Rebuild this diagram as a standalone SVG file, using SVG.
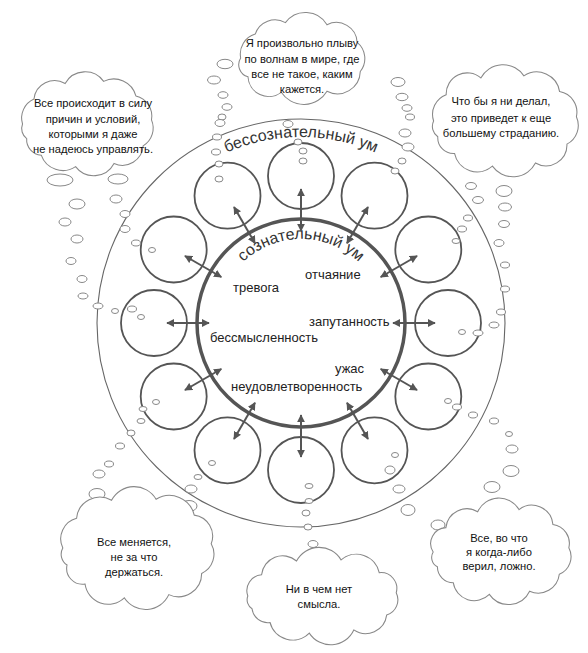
<svg xmlns="http://www.w3.org/2000/svg" width="588" height="653" viewBox="0 0 588 653">
<style>
.bg{fill:#fff}
.outer{fill:none;stroke:#666;stroke-width:1.1}
.inner{fill:none;stroke:#555;stroke-width:3.5}
.sc{fill:none;stroke:#555;stroke-width:1.8}
.arr{stroke:#555;stroke-width:2;marker-start:url(#ah);marker-end:url(#ah)}
.bub{fill:#fff;stroke:#888;stroke-width:1}
.cloud{fill:#fff;stroke:#888;stroke-width:1}
.ct{font-family:"Liberation Sans",Arial,sans-serif;font-size:11.2px;fill:#111;text-anchor:middle}
.lab{font-family:"Liberation Sans",Arial,sans-serif;font-size:13px;fill:#222}
.arc{font-family:"Liberation Sans",Arial,sans-serif;font-size:16px;fill:#333}
</style>
<defs>
<marker id="ah" viewBox="0 0 10 10" refX="9" refY="5" markerWidth="4" markerHeight="4" orient="auto-start-reverse" markerUnits="strokeWidth"><path d="M0,0 L10,5 L0,10 z" fill="#555"/></marker>
<path id="arcOuter" d="M115,323 A186,186 0 0 1 487,323"/>
<path id="arcInner" d="M217,323 A84,84 0 0 1 385,323"/>
</defs>
<rect class="bg" width="588" height="653"/>

<g id="unconscious">
<circle class="outer" cx="301" cy="323" r="204"/>
<text class="arc"><textPath href="#arcOuter" startOffset="50%" text-anchor="middle">бессознательный ум</textPath></text>
</g>

<g id="small-circles">
<circle class="sc" cx="448" cy="323" r="33"/>
<circle class="sc" cx="428.3" cy="249.5" r="33"/>
<circle class="sc" cx="374.5" cy="195.7" r="33"/>
<circle class="sc" cx="301" cy="176" r="33"/>
<circle class="sc" cx="227.5" cy="195.7" r="33"/>
<circle class="sc" cx="173.7" cy="249.5" r="33"/>
<circle class="sc" cx="154" cy="323" r="33"/>
<circle class="sc" cx="173.7" cy="396.5" r="33"/>
<circle class="sc" cx="227.5" cy="450.3" r="33"/>
<circle class="sc" cx="301" cy="470" r="33"/>
<circle class="sc" cx="374.5" cy="450.3" r="33"/>
<circle class="sc" cx="428.3" cy="396.5" r="33"/>
</g>

<g id="conscious">
<circle class="inner" cx="301" cy="323" r="104"/>
<text class="arc"><textPath href="#arcInner" startOffset="50%" text-anchor="middle">сознательный ум</textPath></text>
<text class="lab" x="305" y="279">отчаяние</text>
<text class="lab" x="233" y="292">тревога</text>
<text class="lab" x="309" y="326">запутанность</text>
<text class="lab" x="210" y="342">бессмысленность</text>
<text class="lab" x="335" y="373">ужас</text>
<text class="lab" x="231" y="391">неудовлетворенность</text>
</g>

<g id="connectors">
<line class="arr" x1="393" y1="323" x2="435" y2="323"/>
<line class="arr" x1="393" y1="323" x2="435" y2="323" transform="rotate(-30 301 323)"/>
<line class="arr" x1="393" y1="323" x2="435" y2="323" transform="rotate(-60 301 323)"/>
<line class="arr" x1="393" y1="323" x2="435" y2="323" transform="rotate(-90 301 323)"/>
<line class="arr" x1="393" y1="323" x2="435" y2="323" transform="rotate(-120 301 323)"/>
<line class="arr" x1="393" y1="323" x2="435" y2="323" transform="rotate(-150 301 323)"/>
<line class="arr" x1="393" y1="323" x2="435" y2="323" transform="rotate(180 301 323)"/>
<line class="arr" x1="393" y1="323" x2="435" y2="323" transform="rotate(150 301 323)"/>
<line class="arr" x1="393" y1="323" x2="435" y2="323" transform="rotate(120 301 323)"/>
<line class="arr" x1="393" y1="323" x2="435" y2="323" transform="rotate(90 301 323)"/>
<line class="arr" x1="393" y1="323" x2="435" y2="323" transform="rotate(60 301 323)"/>
<line class="arr" x1="393" y1="323" x2="435" y2="323" transform="rotate(30 301 323)"/>
</g>

<g id="bubbles">
<ellipse class="bub" cx="225" cy="64" rx="8" ry="4.7"/>
<ellipse class="bub" cx="214" cy="80" rx="6.5" ry="4"/>
<ellipse class="bub" cx="223" cy="95" rx="5" ry="3.3"/>
<ellipse class="bub" cx="227" cy="107" rx="5" ry="3.3"/>
<ellipse class="bub" cx="222" cy="117" rx="4" ry="3"/>
<ellipse class="bub" cx="220" cy="123" rx="5" ry="3.5"/>
<ellipse class="bub" cx="217" cy="137" rx="4.5" ry="3"/>
<ellipse class="bub" cx="216" cy="152" rx="4.5" ry="3"/>
<ellipse class="bub" cx="219" cy="164" rx="4" ry="3"/>
<ellipse class="bub" cx="219" cy="179" rx="4" ry="3"/>
<ellipse class="bub" cx="288" cy="124" rx="5" ry="3.5"/>
<ellipse class="bub" cx="298" cy="142" rx="4" ry="3"/>
<ellipse class="bub" cx="303" cy="151" rx="4" ry="3"/>
<ellipse class="bub" cx="303" cy="161" rx="4" ry="3"/>
<ellipse class="bub" cx="398" cy="82" rx="7" ry="4.5"/>
<ellipse class="bub" cx="402" cy="97" rx="6" ry="3.7"/>
<ellipse class="bub" cx="407" cy="108" rx="5" ry="3.3"/>
<ellipse class="bub" cx="410" cy="117" rx="4.5" ry="3"/>
<ellipse class="bub" cx="405" cy="133" rx="6" ry="4"/>
<ellipse class="bub" cx="408" cy="147" rx="6" ry="4"/>
<ellipse class="bub" cx="402" cy="161" rx="4" ry="3"/>
<ellipse class="bub" cx="395" cy="171" rx="4" ry="3"/>
<ellipse class="bub" cx="471" cy="186" rx="5.5" ry="3.5"/>
<ellipse class="bub" cx="478" cy="200" rx="5.5" ry="3.5"/>
<ellipse class="bub" cx="468" cy="218" rx="4.5" ry="3"/>
<ellipse class="bub" cx="462" cy="229" rx="4.5" ry="3"/>
<ellipse class="bub" cx="456" cy="241" rx="4" ry="2.5"/>
<ellipse class="bub" cx="504" cy="191" rx="8" ry="5.5"/>
<ellipse class="bub" cx="505" cy="207" rx="6.5" ry="4"/>
<ellipse class="bub" cx="504" cy="224" rx="5.5" ry="3.5"/>
<ellipse class="bub" cx="499" cy="243" rx="5" ry="3.5"/>
<ellipse class="bub" cx="505" cy="265" rx="4.5" ry="3"/>
<ellipse class="bub" cx="505" cy="289" rx="4.5" ry="3"/>
<ellipse class="bub" cx="501" cy="312" rx="4.5" ry="3"/>
<ellipse class="bub" cx="494" cy="325" rx="5" ry="3"/>
<ellipse class="bub" cx="478" cy="333" rx="5" ry="3"/>
<ellipse class="bub" cx="462" cy="332" rx="3.5" ry="2.5"/>
<ellipse class="bub" cx="448" cy="401" rx="3.5" ry="2.5"/>
<ellipse class="bub" cx="457" cy="407" rx="4.5" ry="3"/>
<ellipse class="bub" cx="473" cy="415" rx="4.5" ry="3"/>
<ellipse class="bub" cx="494" cy="421" rx="4.5" ry="3"/>
<ellipse class="bub" cx="509" cy="434" rx="3.5" ry="2.5"/>
<ellipse class="bub" cx="512" cy="449" rx="6" ry="4"/>
<ellipse class="bub" cx="511" cy="471" rx="8" ry="5.5"/>
<ellipse class="bub" cx="492" cy="487" rx="8" ry="5.5"/>
<ellipse class="bub" cx="395" cy="455" rx="3.5" ry="2.5"/>
<ellipse class="bub" cx="390" cy="470" rx="5" ry="4"/>
<ellipse class="bub" cx="399" cy="489" rx="6" ry="4"/>
<ellipse class="bub" cx="408" cy="510" rx="7" ry="5.5"/>
<ellipse class="bub" cx="438" cy="525" rx="7" ry="5"/>
<ellipse class="bub" cx="309" cy="486" rx="4" ry="2.5"/>
<ellipse class="bub" cx="309" cy="501" rx="4" ry="2.5"/>
<ellipse class="bub" cx="306" cy="513" rx="4" ry="3"/>
<ellipse class="bub" cx="308" cy="527" rx="4" ry="3"/>
<ellipse class="bub" cx="313" cy="544" rx="5" ry="3.5"/>
<ellipse class="bub" cx="212" cy="463" rx="3.5" ry="2.5"/>
<ellipse class="bub" cx="198" cy="477" rx="4" ry="2.5"/>
<ellipse class="bub" cx="191" cy="489" rx="6" ry="4"/>
<ellipse class="bub" cx="189" cy="506" rx="8" ry="5.5"/>
<ellipse class="bub" cx="156" cy="402" rx="3.5" ry="2.5"/>
<ellipse class="bub" cx="143" cy="409" rx="4" ry="2.5"/>
<ellipse class="bub" cx="141" cy="421" rx="4" ry="2.5"/>
<ellipse class="bub" cx="131" cy="433" rx="4" ry="3"/>
<ellipse class="bub" cx="120" cy="446" rx="4.5" ry="3"/>
<ellipse class="bub" cx="109" cy="464" rx="4.5" ry="3"/>
<ellipse class="bub" cx="99" cy="474" rx="6" ry="4"/>
<ellipse class="bub" cx="97" cy="494" rx="8" ry="5.5"/>
<ellipse class="bub" cx="98" cy="306" rx="5" ry="3"/>
<ellipse class="bub" cx="115" cy="311" rx="3.5" ry="2.5"/>
<ellipse class="bub" cx="132" cy="309" rx="4.5" ry="3"/>
<ellipse class="bub" cx="141" cy="317" rx="3.5" ry="2.5"/>
<ellipse class="bub" cx="77" cy="204" rx="8" ry="5"/>
<ellipse class="bub" cx="65" cy="222" rx="6" ry="4"/>
<ellipse class="bub" cx="77" cy="239" rx="6" ry="4"/>
<ellipse class="bub" cx="71" cy="261" rx="5" ry="3.5"/>
<ellipse class="bub" cx="82" cy="279" rx="5" ry="3.5"/>
<ellipse class="bub" cx="83" cy="296" rx="5" ry="3"/>
<ellipse class="bub" cx="116" cy="199" rx="6" ry="4"/>
<ellipse class="bub" cx="125" cy="214" rx="5" ry="3.5"/>
<ellipse class="bub" cx="125" cy="229" rx="5" ry="3.5"/>
<ellipse class="bub" cx="136" cy="243" rx="4.5" ry="3"/>
<ellipse class="bub" cx="152" cy="250" rx="3.5" ry="2.5"/>
<ellipse class="bub" cx="60" cy="180" rx="13" ry="6"/>
<ellipse class="bub" cx="118" cy="179" rx="10" ry="5"/>
</g>

<g id="cloud-top">
<path class="cloud" transform="translate(301 58) scale(1.04) translate(-301 -58)" d="M243,58 A20,20 0 0 1 257,35 A20,20 0 0 1 286,24 A24,24 0 0 1 326,26 A20,20 0 0 1 355,43 A20,20 0 0 1 358,71 A22,22 0 0 1 326,90 A26,26 0 0 1 282,91 A20,20 0 0 1 250,76 A12,12 0 0 1 243,58 Z"/>
<text class="ct" x="302" y="47">Я произвольно плыву</text>
<text class="ct" x="302" y="63">по волнам в мире, где</text>
<text class="ct" x="302" y="78">все не такое, каким</text>
<text class="ct" x="302" y="93">кажется.</text>
</g>

<g id="cloud-left">
<path class="cloud" transform="translate(87 124) scale(1.04) translate(-87 -124)" d="M25,124 A20,20 0 0 1 36,100 A20,20 0 0 1 66,85 A22,22 0 0 1 103,83 A22,22 0 0 1 134,97 A20,20 0 0 1 149,120 A20,20 0 0 1 141,145 A20,20 0 0 1 113,162 A22,22 0 0 1 76,165 A22,22 0 0 1 43,154 A15,15 0 0 1 29,138 A12,12 0 0 1 25,124 Z"/>
<text class="ct" x="93" y="107">Все происходит в силу</text>
<text class="ct" x="93" y="123">причин и условий,</text>
<text class="ct" x="93" y="138">которыми я даже</text>
<text class="ct" x="93" y="153">не надеюсь управлять.</text>
</g>

<g id="cloud-right">
<path class="cloud" transform="translate(505 121) scale(1.05) translate(-505 -121)" d="M437,121 A20,20 0 0 1 449,96 A20,20 0 0 1 482,80 A24,24 0 0 1 523,78 A22,22 0 0 1 557,93 A20,20 0 0 1 573,117 A20,20 0 0 1 564,143 A20,20 0 0 1 534,161 A24,24 0 0 1 493,164 A22,22 0 0 1 457,152 A15,15 0 0 1 441,136 A12,12 0 0 1 437,121 Z"/>
<text class="ct" x="501" y="105">Что бы я ни делал,</text>
<text class="ct" x="501" y="122">это приведет к еще</text>
<text class="ct" x="501" y="137">большему страданию.</text>
</g>

<g id="cloud-bottom-left">
<path class="cloud" transform="translate(137 548) scale(1.06) translate(-137 -548)" d="M67,548 A20,20 0 0 1 80,520 A22,22 0 0 1 113,503 A24,24 0 0 1 155,502 A24,24 0 0 1 191,517 A20,20 0 0 1 207,544 A20,20 0 0 1 198,572 A22,22 0 0 1 167,592 A24,24 0 0 1 125,595 A22,22 0 0 1 88,582 A15,15 0 0 1 71,564 A12,12 0 0 1 67,548 Z"/>
<text class="ct" x="134" y="546">Все меняется,</text>
<text class="ct" x="134" y="561">не за что</text>
<text class="ct" x="134" y="576">держаться.</text>
</g>

<g id="cloud-bottom">
<path class="cloud" transform="translate(322 596) scale(1.06) translate(-322 -596)" d="M252,596 A15,15 0 0 1 265,576 A20,20 0 0 1 298,563 A24,24 0 0 1 340,562 A22,22 0 0 1 376,574 A15,15 0 0 1 392,593 A15,15 0 0 1 383,614 A20,20 0 0 1 352,628 A24,24 0 0 1 310,631 A22,22 0 0 1 273,621 A15,15 0 0 1 256,608 A10,10 0 0 1 252,596 Z"/>
<text class="ct" x="319" y="593">Ни в чем нет</text>
<text class="ct" x="319" y="608">смысла.</text>
</g>

<g id="cloud-bottom-right">
<path class="cloud" transform="translate(501 552) scale(1.06) translate(-501 -552)" d="M437,552 A15,15 0 0 1 449,529 A20,20 0 0 1 479,514 A22,22 0 0 1 518,512 A20,20 0 0 1 550,526 A18,18 0 0 1 565,548 A18,18 0 0 1 556,573 A20,20 0 0 1 528,589 A22,22 0 0 1 490,592 A20,20 0 0 1 456,581 A15,15 0 0 1 441,566 A10,10 0 0 1 437,552 Z"/>
<text class="ct" x="499" y="542">Все, во что</text>
<text class="ct" x="499" y="556">я когда-либо</text>
<text class="ct" x="499" y="570">верил, ложно.</text>
</g>
</svg>
